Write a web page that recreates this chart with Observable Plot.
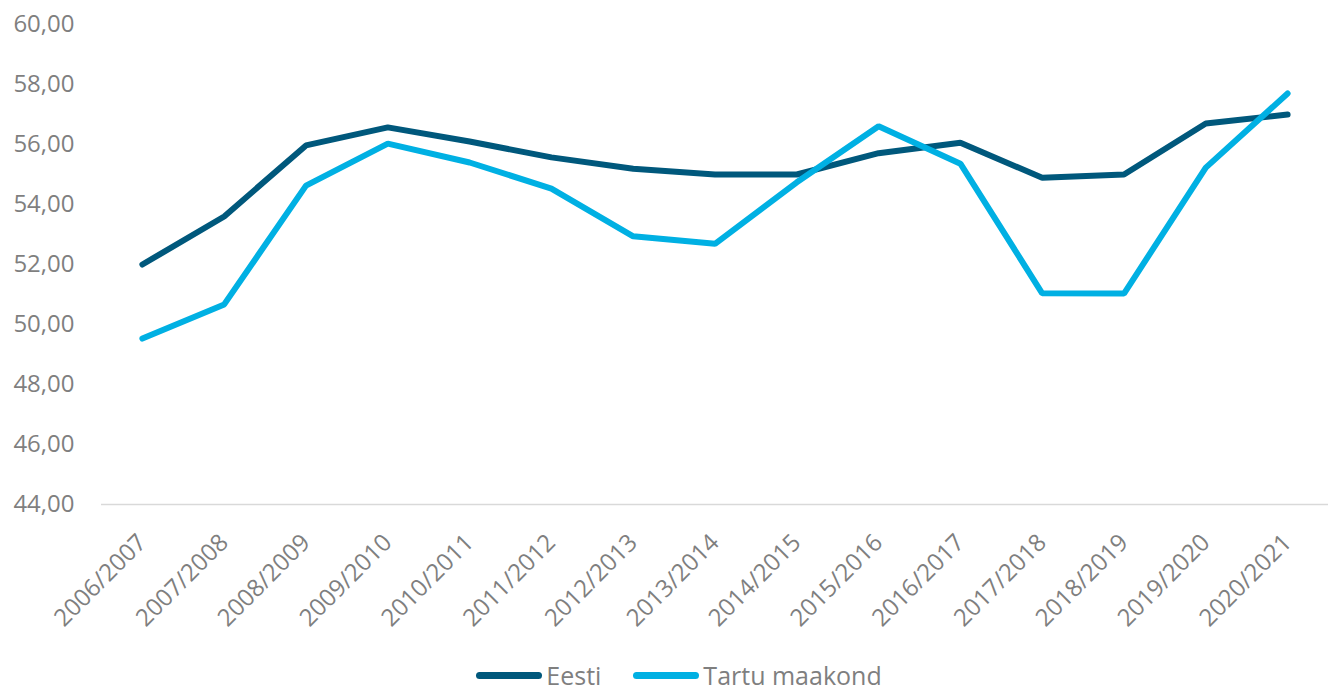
<!DOCTYPE html>
<html>
<head>
<meta charset="utf-8">
<script src="https://cdn.jsdelivr.net/npm/d3@7"></script>
<script src="https://cdn.jsdelivr.net/npm/@observablehq/plot@0.6"></script>
<style>
  html, body { margin: 0; padding: 0; background: #fff; overflow: hidden; }
  #chart { width: 1328px; height: 650px; }
  #legend { box-sizing: border-box; width: 1328px; display: flex; justify-content: center; align-items: center; height: 42px; padding-top: 8px; padding-left: 30px; font-family: "Open Sans", Lato, sans-serif; font-size: 25px; line-height: 1; color: #7f7f7f; }
  .item { display: flex; align-items: center; margin: 0 16px; }
  .swatch { width: 66px; height: 7px; border-radius: 3.5px; margin-right: 4px; }
</style>
</head>
<body>
<div id="chart"></div>
<div id="legend"></div>
<script>
const years = ["2006/2007","2007/2008","2008/2009","2009/2010","2010/2011","2011/2012","2012/2013","2013/2014","2014/2015","2015/2016","2016/2017","2017/2018","2018/2019","2019/2020","2020/2021"];
const eesti = [52.00, 53.60, 55.97, 56.57, 56.10, 55.57, 55.19, 55.00, 55.00, 55.71, 56.06, 54.89, 55.00, 56.70, 57.00];
const tartu = [49.53, 50.67, 54.63, 56.03, 55.40, 54.53, 52.94, 52.69, 54.74, 56.61, 55.36, 51.04, 51.03, 55.23, 57.70];
const seriesNames = ["Eesti", "Tartu maakond"];
const seriesColors = ["#00587c", "#00b0e3"];
const yTicks = [44, 46, 48, 50, 52, 54, 56, 58, 60];

const data = [];
years.forEach((y, i) => {
  data.push({year: y, value: eesti[i], series: seriesNames[0]});
  data.push({year: y, value: tartu[i], series: seriesNames[1]});
});

const fmt = d => d.toFixed(2).replace(".", ",");

const plot = Plot.plot({
  width: 1328,
  height: 650,
  marginLeft: 101,
  marginRight: 0,
  marginTop: 24,
  marginBottom: 146,
  style: { fontFamily: "'Open Sans', Lato, sans-serif", fontSize: "24px", color: "#7f7f7f", background: "#fff", display: "block" },
  x: { type: "point", domain: years, padding: 0.5, round: false },
  y: { domain: [44, 60] },
  color: { domain: seriesNames, range: seriesColors },
  marks: [
    Plot.ruleY([44], { stroke: "#d9d9d9", strokeWidth: 1.5 }),
    Plot.axisY({ ticks: yTicks, tickFormat: fmt, tickSize: 0, tickPadding: 27, label: null, fill: "#7f7f7f" }),
    Plot.axisX({ tickRotate: -45, tickSize: 0, tickPadding: 34, label: null, fill: "#7f7f7f" }),
    Plot.line(data, { x: "year", y: "value", z: "series", stroke: "series", strokeWidth: 6, strokeLinecap: "round", strokeLinejoin: "miter" })
  ]
});
document.getElementById("chart").appendChild(plot);

const legend = document.getElementById("legend");
seriesNames.forEach((n, i) => {
  const item = document.createElement("div");
  item.className = "item";
  const sw = document.createElement("div");
  sw.className = "swatch";
  sw.style.background = seriesColors[i];
  const t = document.createElement("span");
  t.textContent = n;
  item.appendChild(sw);
  item.appendChild(t);
  legend.appendChild(item);
});
</script>
</body>
</html>
